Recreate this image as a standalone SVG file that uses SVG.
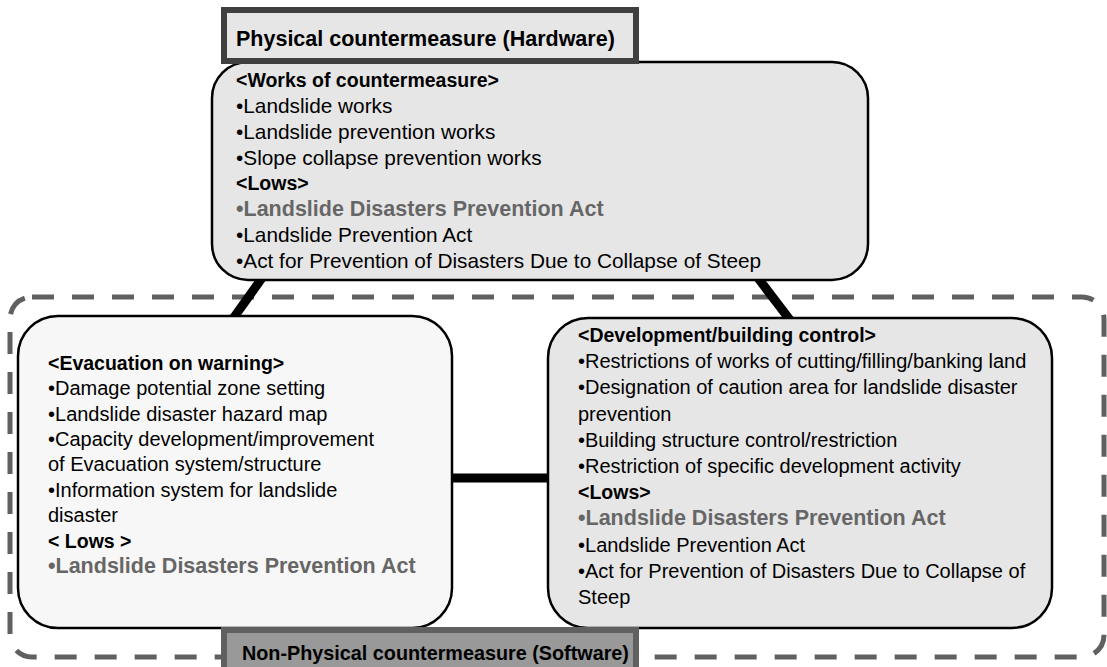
<svg xmlns="http://www.w3.org/2000/svg" width="1107" height="667" viewBox="0 0 1107 667">
  <style>
    text { font-family: "Liberation Sans", Arial, sans-serif; font-size: 20px; fill: #000; }
    .big { font-size: 20.8px; }
    .b { font-weight: bold; font-size: 19.5px; }
    .g { font-weight: bold; font-size: 21.5px; fill: #666; }
    .title { font-weight: bold; font-size: 21.5px; }
    .title2 { font-weight: bold; font-size: 19.8px; }
    .node { stroke: #000; stroke-width: 2.5; }
    .link { stroke: #000; stroke-width: 9; fill: none; }
  </style>
  <rect width="1107" height="667" fill="#fff"/>

  <!-- software region boundary -->
  <g id="software-region">
    <rect x="10" y="297" width="1094" height="360" rx="22" fill="none" stroke="#606060" stroke-width="5" stroke-dasharray="22 18"/>
  </g>

  <!-- connectors -->
  <g id="connectors">
    <line class="link" x1="262" y1="278" x2="232" y2="320"/>
    <line class="link" x1="758" y1="278" x2="790" y2="320"/>
    <line class="link" x1="450" y1="478" x2="550" y2="478"/>
  </g>

  <g id="hardware-box">
    <rect class="node" x="212" y="62" width="656" height="218" rx="36" fill="#e6e6e6"/>
    <text x="236" y="87" class="b">&lt;Works of countermeasure&gt;</text>
    <text x="236" y="113" class="big">•Landslide works</text>
    <text x="236" y="139" class="big">•Landslide prevention works</text>
    <text x="236" y="165" class="big">•Slope collapse prevention works</text>
    <text x="236" y="190" class="b">&lt;Lows&gt;</text>
    <text x="236" y="216" class="g">•Landslide Disasters Prevention Act</text>
    <text x="236" y="242" class="big">•Landslide Prevention Act</text>
    <text x="236" y="268" class="big">•Act for Prevention of Disasters Due to Collapse of Steep</text>
  </g>

  <g id="hardware-title">
    <rect x="224" y="10" width="412" height="51" fill="#e6e6e6" stroke="#404040" stroke-width="6"/>
    <text x="236" y="46" class="title">Physical countermeasure (Hardware)</text>
  </g>

  <g id="evacuation-box">
    <rect class="node" x="18" y="316" width="434" height="312" rx="40" fill="#f7f7f7"/>
    <text x="48" y="370" class="b">&lt;Evacuation on warning&gt;</text>
    <text x="48" y="395">•Damage potential zone setting</text>
    <text x="48" y="421">•Landslide disaster hazard map</text>
    <text x="48" y="446">•Capacity development/improvement</text>
    <text x="48" y="471">of Evacuation system/structure</text>
    <text x="48" y="497">•Information system for landslide</text>
    <text x="48" y="522">disaster</text>
    <text x="48" y="548" class="b">&lt; Lows &gt;</text>
    <text x="48" y="573" class="g">•Landslide Disasters Prevention Act</text>
  </g>

  <g id="development-box">
    <rect class="node" x="548" y="318" width="504" height="310" rx="40" fill="#e6e6e6"/>
    <text x="578" y="342" class="b">&lt;Development/building control&gt;</text>
    <text x="578" y="368">•Restrictions of works of cutting/filling/banking land</text>
    <text x="578" y="394">•Designation of caution area for landslide disaster</text>
    <text x="578" y="421">prevention</text>
    <text x="578" y="447">•Building structure control/restriction</text>
    <text x="578" y="473">•Restriction of specific development activity</text>
    <text x="578" y="499" class="b">&lt;Lows&gt;</text>
    <text x="578" y="525" class="g">•Landslide Disasters Prevention Act</text>
    <text x="578" y="552">•Landslide Prevention Act</text>
    <text x="578" y="578">•Act for Prevention of Disasters Due to Collapse of</text>
    <text x="578" y="604">Steep</text>
  </g>

  <g id="software-title">
    <rect x="224" y="630" width="412" height="45" fill="#999" stroke="#606060" stroke-width="6"/>
    <text x="242" y="660" class="title2">Non-Physical countermeasure (Software)</text>
  </g>
</svg>
